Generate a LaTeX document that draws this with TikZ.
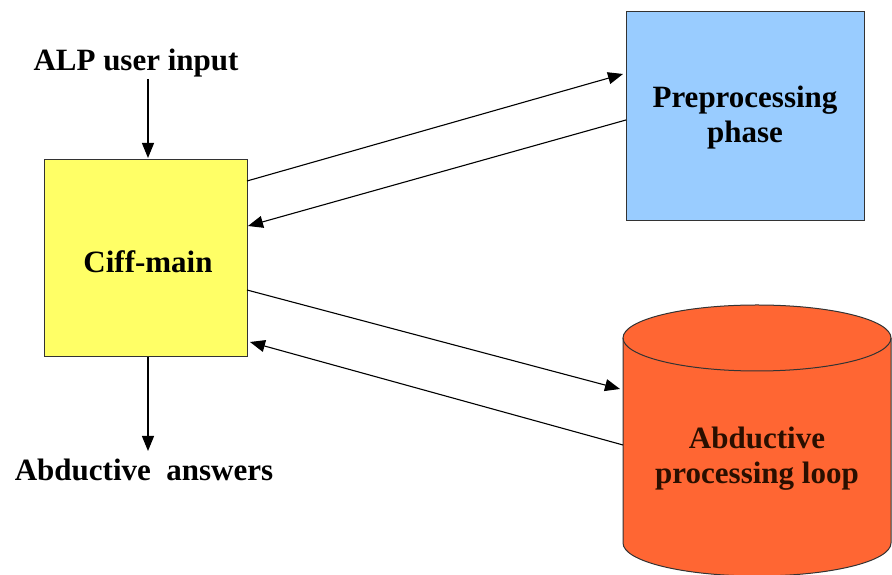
\documentclass[tikz,border=0pt]{standalone}
\usepackage{fontspec}
\setmainfont{Liberation Serif}
\usetikzlibrary{arrows.meta}
\definecolor{boxyellow}{HTML}{FFFF66}
\definecolor{boxblue}{HTML}{99CCFF}
\definecolor{cylorange}{HTML}{FF6633}
\definecolor{cyltext}{HTML}{2A0F00}
\tikzset{
  lbl/.style={font=\fontsize{31}{35}\selectfont\bfseries, align=center, inner sep=0pt},
  conn/.style={line width=1.1pt, -{Triangle[length=15pt,width=12pt]}},
  boxstyle/.style={draw=black!80, line width=1pt, inner sep=0pt}
}
\begin{document}
\begin{tikzpicture}[x=1pt,y=1pt]
\useasboundingbox (0,0) rectangle (892,575);
% boxes
\node[boxstyle, fill=boxyellow, minimum width=203pt, minimum height=197pt] (ciff) at (145.5,316.5) {};
\node[lbl] (ciffl) at (148,313) {Ciff-main};
\node[boxstyle, fill=boxblue, minimum width=238pt, minimum height=209pt] (pre) at (745,458.5) {};
\node[lbl] (prel) at (745,457) {Preprocessing\\phase};
% cylinder
\fill[cylorange] (623,237) -- (623,32) arc[start angle=180,end angle=360,x radius=134,y radius=33]
  -- (891,237) arc[start angle=0,end angle=180,x radius=134,y radius=33] -- cycle;
\draw[black!80, line width=1pt] (623,237) -- (623,32) arc[start angle=180,end angle=360,x radius=134,y radius=33] -- (891,237);
\draw[black!80, line width=1pt] (757,237) ellipse[x radius=134,y radius=33];
\node[lbl, text=cyltext] (loop) at (757,116) {Abductive\\processing loop};
% texts
\node[lbl] (alp) at (136,512) {ALP user input};
\node[lbl] (ans) at (144,105) {Abductive\ \ answers};
% connector coordinates
\coordinate (a1s) at (247,394);
\coordinate (a1e) at (623,501);
\coordinate (a2s) at (626,455);
\coordinate (a2e) at (248,349);
\coordinate (a3s) at (247,285);
\coordinate (a3e) at (620,186);
\coordinate (a4s) at (623,130);
\coordinate (a4e) at (250,233);
\coordinate (ins) at (148,496);
\coordinate (ine) at (148,417);
\coordinate (outs) at (148,218);
\coordinate (oute) at (148,124);
\draw[conn] (a1s) -- (a1e);
\draw[conn] (a2s) -- (a2e);
\draw[conn] (a3s) -- (a3e);
\draw[conn] (a4s) -- (a4e);
\draw[conn] (ins) -- (ine);
\draw[conn] (outs) -- (oute);
\end{tikzpicture}
\end{document}
